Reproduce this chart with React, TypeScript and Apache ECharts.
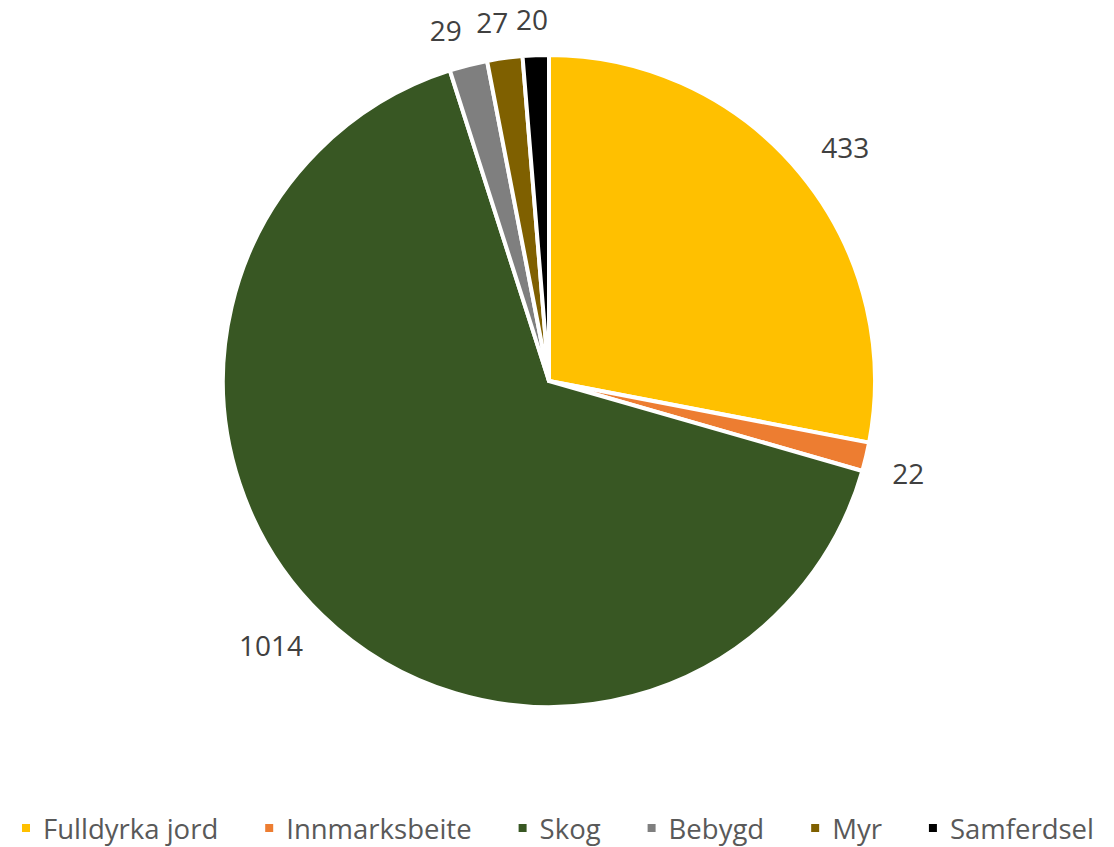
import React, { useEffect, useRef } from "react";
import * as echarts from "echarts";

const categories = ["Fulldyrka jord", "Innmarksbeite", "Skog", "Bebygd", "Myr", "Samferdsel"];
const values = [433, 22, 1014, 29, 27, 20];
const colors = ["#FFC000", "#ED7D31", "#385723", "#7F7F7F", "#7F6000", "#000000"];

const CX = 549;
const CY = 381;
const RADIUS = 326;
const LABEL_R = 353;
const GLYPH_H = 20;
const TOP_INSET = 3;

const clamp01 = (v: number) => Math.max(0, Math.min(1, v));

export default function App() {
  const ref = useRef<HTMLDivElement>(null);
  useEffect(() => {
    if (!ref.current) return;
    const chart = echarts.init(ref.current, undefined, { renderer: "svg" });
    const total = values.reduce((a, b) => a + b, 0);
    chart.setOption({
      animation: false,
      backgroundColor: "#ffffff",
      color: colors,
      legend: {
        bottom: 5,
        left: 20,
        padding: 0,
        icon: "rect",
        itemWidth: 10,
        itemHeight: 10,
        itemGap: 45,
        data: categories,
        textStyle: {
          fontFamily: "Open Sans",
          fontSize: 27.5,
          color: "#595959",
          padding: [0, 0, 0, 7],
        },
      },
      series: [
        {
          type: "pie",
          center: [CX, CY],
          radius: [0, RADIUS],
          startAngle: 90,
          clockwise: true,
          avoidLabelOverlap: false,
          itemStyle: { borderColor: "#ffffff", borderWidth: 4 },
          label: {
            show: true,
            position: "outside",
            formatter: "{c}",
            fontFamily: "Open Sans",
            fontSize: 28,
            color: "#404040",
          },
          labelLine: { show: false, length: 30, length2: 0 },
          labelLayout: (p: any) => {
            const i = p.dataIndex;
            let before = 0;
            for (let k = 0; k < i; k++) before += values[k];
            const th = ((before + values[i] / 2) / total) * Math.PI * 2;
            const s = Math.sin(th);
            const c = Math.cos(th);
            const rx = CX + LABEL_R * s;
            const ry = CY - LABEL_R * c;
            const w = p.labelRect.width;
            const ah = clamp01(0.5 - 2 * s);
            const av = clamp01(0.5 + 2 * c);
            return {
              x: rx - ah * w,
              y: ry - av * GLYPH_H - TOP_INSET,
              align: "left",
              verticalAlign: "top",
            };
          },
          emphasis: { disabled: true },
          data: categories.map((name, i) => ({ name, value: values[i] })),
        },
      ],
    });
    return () => chart.dispose();
  }, []);
  return (
    <div
      ref={ref}
      style={{ position: "absolute", left: 0, top: 0, width: 1114, height: 847 }}
    />
  );
}
